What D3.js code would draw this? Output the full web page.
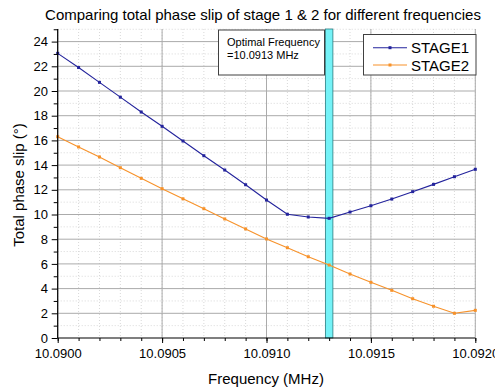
<!DOCTYPE html>
<html><head><meta charset="utf-8">
<script src="https://cdn.jsdelivr.net/npm/d3@7"></script>
<style>body{margin:0;background:#fff}svg{display:block;font-family:"Liberation Sans",Arial,sans-serif}</style>
</head><body><svg id="c" width="495" height="390"></svg>
<script>
const freqs = [10.0900,10.0901,10.0902,10.0903,10.0904,10.0905,10.0906,10.0907,10.0908,10.0909,10.0910,10.0911,10.0912,10.0913,10.0914,10.0915,10.0916,10.0917,10.0918,10.0919,10.0920];
const stage1 = [23.05,21.9,20.7,19.5,18.3,17.14,15.95,14.76,13.6,12.41,11.17,10.02,9.8,9.69,10.2,10.71,11.25,11.85,12.44,13.06,13.66];
const stage2 = [16.3,15.47,14.66,13.79,12.93,12.09,11.27,10.47,9.64,8.83,8.02,7.31,6.58,5.91,5.18,4.51,3.86,3.18,2.57,2.0,2.24];
const xTicks = [10.0900,10.0905,10.0910,10.0915,10.0920];
const yTicks = [0,2,4,6,8,10,12,14,16,18,20,22,24];
const optimal = 10.0913;
const bandWidth = 0.000036;
const series = [{name:"STAGE1", values:stage1, color:"#23239c"},{name:"STAGE2", values:stage2, color:"#f7922a"}];

const svg = d3.select("#c");
const L=57.7, R=475.3, T=29, B=338;
const x = d3.scaleLinear().domain([10.0900,10.0920]).range([L,R]);
const y = d3.scaleLinear().domain([0,24]).range([B,41.6]);
const yTop = y.invert(T);

// minor grid
const xMinor = d3.range(0,21).map(i=>10.0900+i*0.0001);
const yMinor = d3.range(1,26,2);
const g = svg.append("g");
g.selectAll(".xm").data(xMinor).enter().append("line")
 .attr("x1",d=>x(d)).attr("x2",d=>x(d)).attr("y1",T).attr("y2",B)
 .attr("stroke","#d8d8d8").attr("stroke-dasharray","1,2");
g.selectAll(".ym").data(yMinor).enter().append("line")
 .attr("x1",L).attr("x2",R).attr("y1",d=>y(d)).attr("y2",d=>y(d))
 .attr("stroke","#d8d8d8").attr("stroke-dasharray","1,2");
// major grid
g.selectAll(".xg").data(xTicks).enter().append("line")
 .attr("x1",d=>x(d)).attr("x2",d=>x(d)).attr("y1",T).attr("y2",B)
 .attr("stroke","#ababab");
g.selectAll(".yg").data(yTicks.slice(1)).enter().append("line")
 .attr("x1",L).attr("x2",R).attr("y1",d=>y(d)).attr("y2",d=>y(d))
 .attr("stroke","#ababab");

// band
svg.append("rect").attr("x",x(optimal-bandWidth/2)).attr("width",x(optimal+bandWidth/2)-x(optimal-bandWidth/2))
 .attr("y",T).attr("height",B-T).attr("fill","#74f2f7").attr("stroke","#2a7c80").attr("stroke-width",0.8);

// lines
const line = d3.line().x((d,i)=>x(freqs[i])).y(d=>y(d));
series.forEach(s=>{
  svg.append("path").attr("d",line(s.values)).attr("fill","none").attr("stroke",s.color).attr("stroke-width",1.1);
  svg.selectAll(null).data(s.values).enter().append("rect")
   .attr("x",(d,i)=>x(freqs[i])-1.5).attr("y",d=>y(d)-1.5).attr("width",3).attr("height",3).attr("fill",s.color);
});

// axes
const xAxis = svg.append("g").attr("transform",`translate(0,${B})`);
xAxis.call(d3.axisBottom(x).tickValues(xMinor).tickSize(3).tickFormat(""));
xAxis.call(g2=>g2.select(".domain").remove());
const xAxis2 = svg.append("g").attr("transform",`translate(0,${B})`)
 .call(d3.axisBottom(x).tickValues(xTicks).tickSize(5).tickSizeOuter(0).tickFormat(d3.format(".4f")));
xAxis2.select(".domain").attr("d",`M${L},0H${R}`);
xAxis2.selectAll("text").attr("font-size","13px").attr("font-family","Liberation Sans, Arial, sans-serif").attr("dy","0.95em").attr("fill","#000");
svg.selectAll("g line").filter(function(){return this.parentNode.classList.contains("tick")}).attr("stroke","#000");

const yAxis = svg.append("g").attr("transform",`translate(${L},0)`)
 .call(d3.axisLeft(y).tickValues(yMinor.filter(v=>v<=yTop)).tickSize(4).tickFormat(""));
yAxis.select(".domain").remove();
const yAxis2 = svg.append("g").attr("transform",`translate(${L},0)`)
 .call(d3.axisLeft(y).tickValues(yTicks).tickSize(6).tickSizeOuter(0));
yAxis2.select(".domain").attr("d",`M0,${T}V${B}`);
yAxis2.selectAll("text").attr("font-size","13px").attr("font-family","Liberation Sans, Arial, sans-serif").attr("dx","-0.05em").attr("fill","#000");
svg.selectAll(".domain").attr("stroke","#000").attr("stroke-width",1.2);

// titles
svg.append("text").attr("x",263).attr("y",20).attr("text-anchor","middle").attr("font-size","15px").text("Comparing total phase slip of stage 1 & 2 for different frequencies");
svg.append("text").attr("x",266).attr("y",384).attr("text-anchor","middle").attr("font-size","15px").text("Frequency (MHz)");
svg.append("text").attr("transform","translate(24,185) rotate(-90)").attr("text-anchor","middle").attr("font-size","15px").text("Total phase slip (°)");

// annotation
svg.append("rect").attr("x",218.5).attr("y",30).attr("width",106).attr("height",45).attr("fill","#fff").attr("stroke","#404040");
svg.append("text").attr("x",227).attr("y",45.5).attr("font-size","11px").text("Optimal Frequency");
svg.append("text").attr("x",227).attr("y",59).attr("font-size","11px").text("=10.0913 MHz");

// legend
svg.append("rect").attr("x",363.5).attr("y",34.5).attr("width",112.5).attr("height",40.5).attr("fill","#fff").attr("stroke","#404040");
series.forEach((s,i)=>{
  const yy = 47.7 + i*17.3;
  svg.append("line").attr("x1",373).attr("x2",407).attr("y1",yy).attr("y2",yy).attr("stroke",s.color).attr("stroke-width",1.1);
  svg.append("rect").attr("x",388.5).attr("y",yy-1.5).attr("width",3).attr("height",3).attr("fill",s.color);
  svg.append("text").attr("x",411).attr("y",yy+5.5).attr("font-size","15px").text(s.name);
});
</script></body></html>
